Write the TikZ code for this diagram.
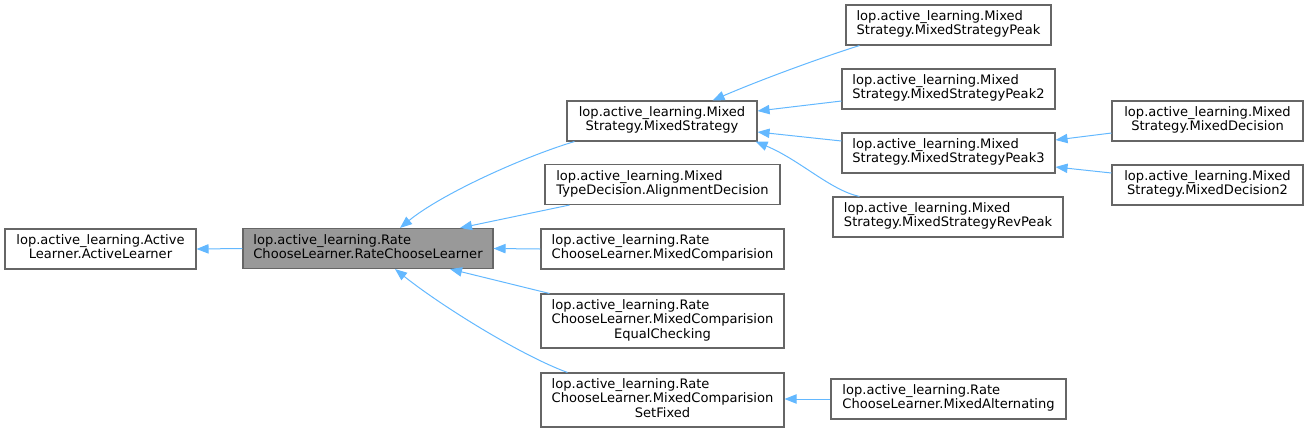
\documentclass[tikz,border=0pt]{standalone}
\usepackage{fontspec}
\setmainfont{DejaVu Sans}
\usetikzlibrary{arrows.meta, calc}
\definecolor{edgeblue}{RGB}{99, 184, 255}
\definecolor{boxline}{RGB}{102, 102, 102}
\definecolor{curfill}{RGB}{153, 153, 153}

% first lines flush left, last line centred
\newcommand{\clslabel}[2]{\begin{tabular}{@{}l@{}}#1\\\multicolumn{1}{@{}c@{}}{#2}\end{tabular}}

\tikzset{
  cls/.style={draw=boxline, line width=0.8pt, fill=white, inner sep=2pt,
    minimum height=30pt, font=\fontsize{9.8}{10.5}\selectfont},
  inherit/.style={draw=edgeblue, line width=0.75pt, >={Triangle[length=9pt, width=7pt]}, <-, fill=none}
}

\begin{document}
\begin{tikzpicture}[x=0.75pt, y=-0.75pt]
  \useasboundingbox (0, 0) rectangle (1308, 433);

  % base classes
  \node[cls, minimum width=143.25pt] (al) at (100.5, 249) {\clslabel{lop.active\_learning.Active}{Learner.ActiveLearner}};
  \node[cls, fill=curfill, minimum width=187.5pt] (rcl) at (368, 248.5) {\clslabel{lop.active\_learning.Rate}{ChooseLearner.RateChooseLearner}};

  % direct subclasses
  \node[cls, minimum width=142.5pt] (ms) at (662, 121) {\clslabel{lop.active\_learning.Mixed}{Strategy.MixedStrategy}};
  \node[cls, minimum width=176.25pt] (ad) at (662.5, 184.5) {\clslabel{lop.active\_learning.Mixed}{TypeDecision.AlignmentDecision}};
  \node[cls, minimum width=182.25pt] (mc) at (662.5, 249) {\clslabel{lop.active\_learning.Rate}{ChooseLearner.MixedComparision}};
  \node[cls, minimum width=182.25pt, minimum height=40.5pt] (ec) at (662.5, 321) {\clslabel{lop.active\_learning.Rate\\ChooseLearner.MixedComparision}{EqualChecking}};
  \node[cls, minimum width=182.25pt, minimum height=40.5pt] (sf) at (662.5, 400) {\clslabel{lop.active\_learning.Rate\\ChooseLearner.MixedComparision}{SetFixed}};

  % strategy subclasses
  \node[cls, minimum width=153.75pt] (pk) at (948.5, 25) {\clslabel{lop.active\_learning.Mixed}{Strategy.MixedStrategyPeak}};
  \node[cls, minimum width=159.75pt] (pk2) at (948.5, 89) {\clslabel{lop.active\_learning.Mixed}{Strategy.MixedStrategyPeak2}};
  \node[cls, minimum width=159.75pt] (pk3) at (948.5, 153) {\clslabel{lop.active\_learning.Mixed}{Strategy.MixedStrategyPeak3}};
  \node[cls, minimum width=172.5pt] (rp) at (948, 217) {\clslabel{lop.active\_learning.Mixed}{Strategy.MixedStrategyRevPeak}};
  \node[cls, minimum width=176.25pt] (ma) at (948.5, 399) {\clslabel{lop.active\_learning.Rate}{ChooseLearner.MixedAlternating}};

  % decisions
  \node[cls, minimum width=143.25pt] (md) at (1207.5, 121) {\clslabel{lop.active\_learning.Mixed}{Strategy.MixedDecision}};
  \node[cls, minimum width=143.25pt] (md2) at (1207.5, 185) {\clslabel{lop.active\_learning.Mixed}{Strategy.MixedDecision2}};

  % inheritance edges
  \draw[inherit] (al.east) -- (rcl.west);
  \draw[inherit] ($(rcl.north)+(32,0)$) .. controls (440, 195) and (520, 158) .. ($(ms.south west)+(8,0)$);
  \draw[inherit] ($(rcl.north)+(92,0)$) -- ($(ad.south west)+(25,0)$);
  \draw[inherit] (rcl.east) -- (mc.west);
  \draw[inherit] ($(rcl.south)+(82,0)$) -- ($(ec.north west)+(9,0)$);
  \draw[inherit] ($(rcl.south)+(27,0)$) .. controls (440, 305) and (520, 355) .. ($(sf.north west)+(27,0)$);

  \draw[inherit] ($(ms.north east)+(-45,0)$) .. controls (760, 80) and (820, 58) .. ($(pk.south west)+(14,0)$);
  \draw[inherit] ($(ms.east)+(0,-10)$) -- ($(pk2.west)+(0,12)$);
  \draw[inherit] ($(ms.east)+(0,11)$) -- ($(pk3.west)+(0,-12)$);
  \draw[inherit] ($(ms.south east)+(-2,0)$) .. controls (800, 160) and (830, 190) .. ($(rp.north west)+(27,0)$);

  \draw[inherit] ($(pk3.east)+(0,-13)$) -- ($(md.west)+(0,12)$);
  \draw[inherit] ($(pk3.east)+(0,14)$) -- ($(md2.west)+(0,-12)$);
  \draw[inherit] (ma.west -| sf.east) -- (ma.west);
\end{tikzpicture}
\end{document}
